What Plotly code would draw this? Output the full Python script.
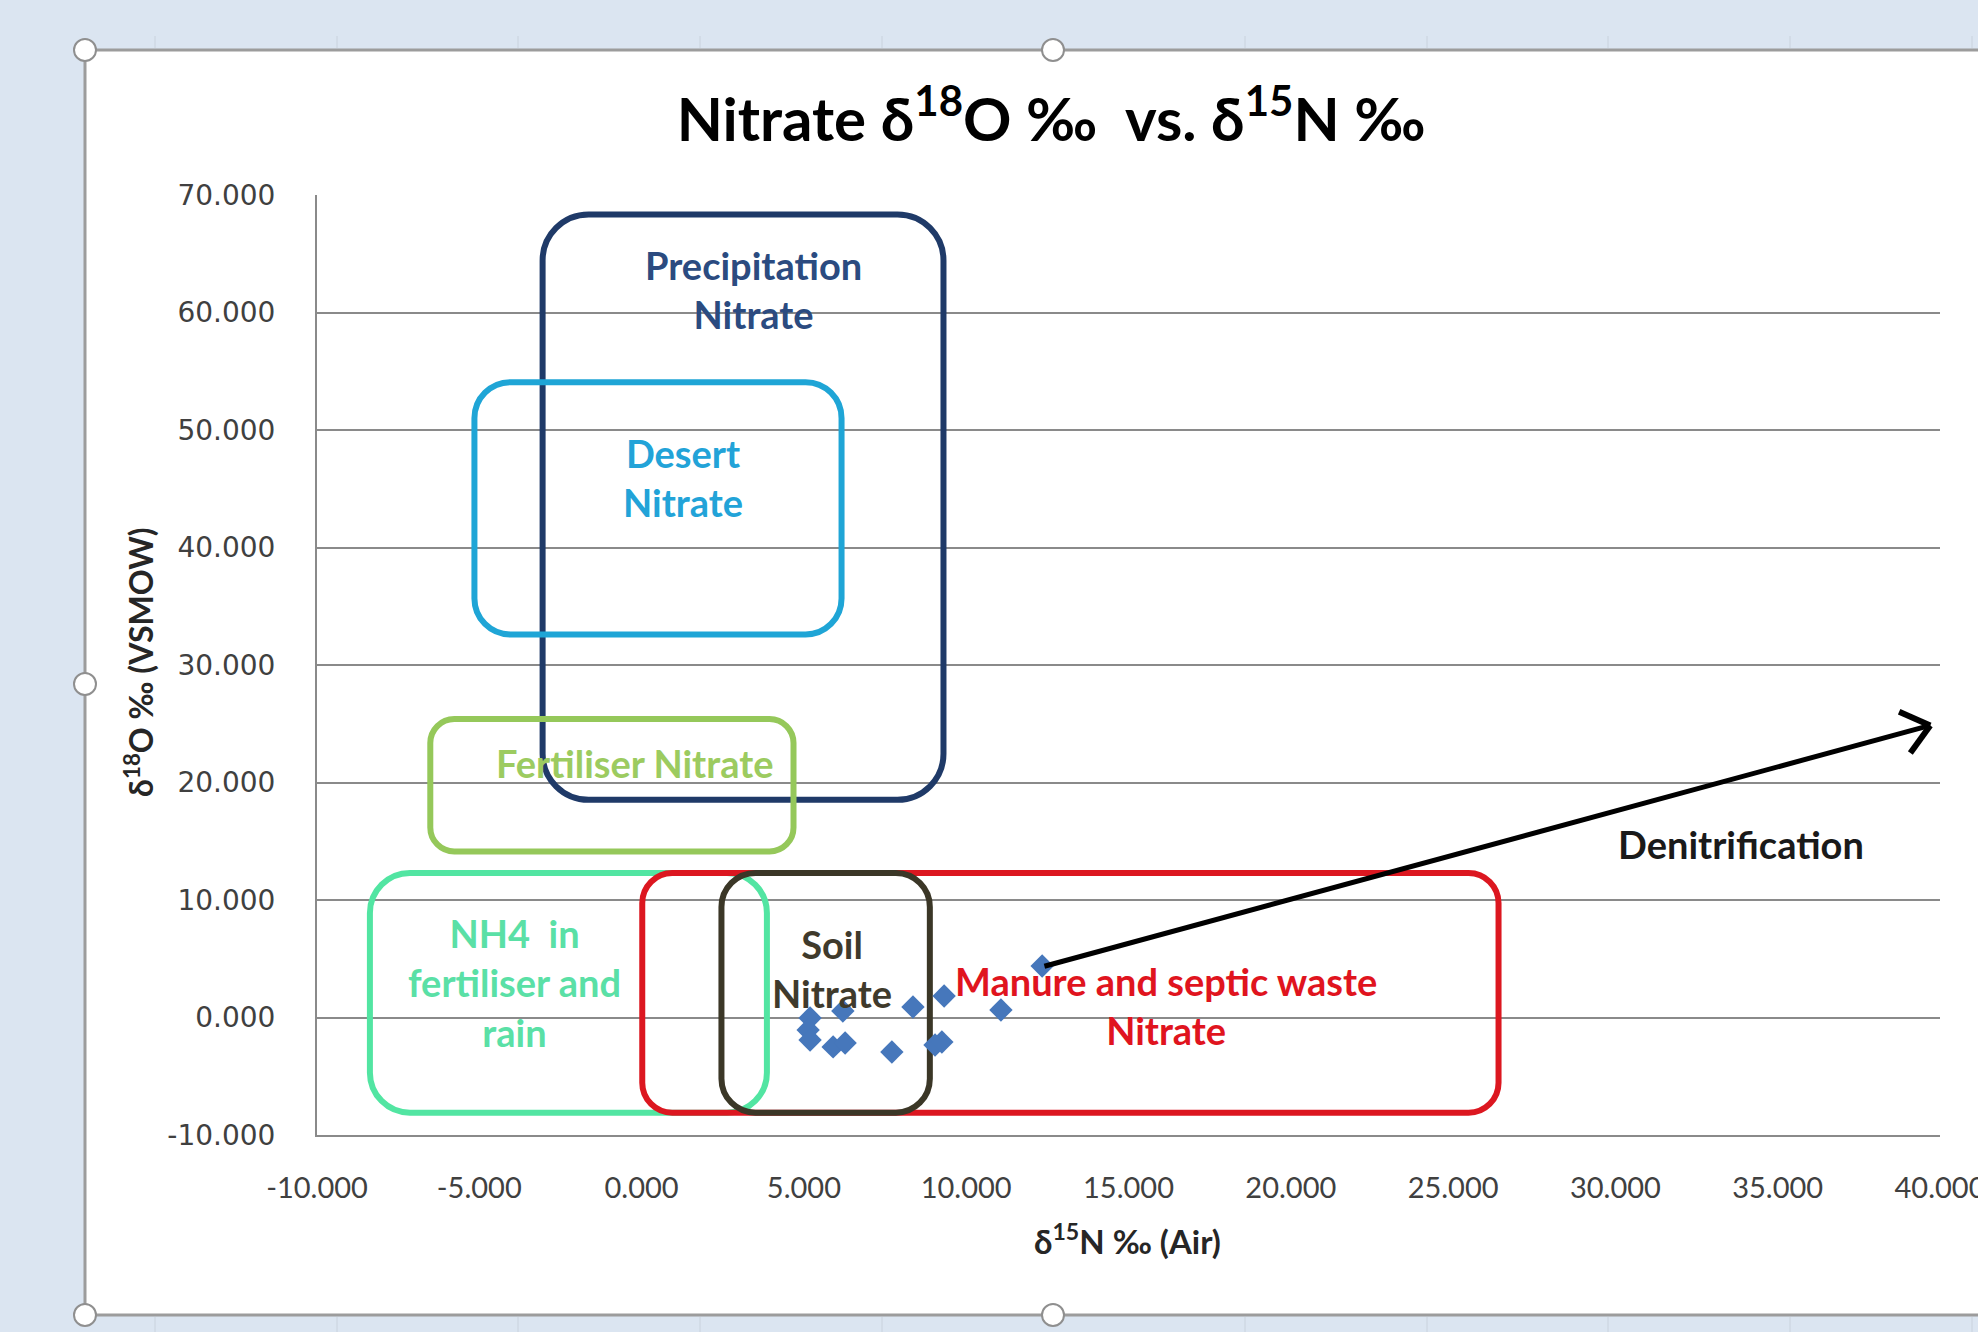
import math
import plotly.graph_objects as go

# ---------------- data ----------------
d15N = [5.19, 5.13, 5.19, 5.90, 6.27, 6.20, 7.71, 8.36, 9.32, 9.04, 9.25, 11.07, 12.34]
d18O = [-0.04, -1.06, -1.91, -2.50, -2.17, 0.55, -2.94, 0.90, 1.83, -2.34, -2.09, 0.64, 4.38]

x_ticks = [-10, -5, 0, 5, 10, 15, 20, 25, 30, 35, 40]
y_ticks = [-10, 0, 10, 20, 30, 40, 50, 60, 70]
x_ticktext = [f"{v:.3f}" for v in x_ticks]
y_ticktext = [f"{v:.3f}" for v in y_ticks]

# source regions (delta15N range, delta18O range)
region_names = ["Precipitation", "Desert", "Fertiliser", "NH4", "Manure", "Soil"]
region_x0 = [-3.05, -5.15, -6.51, -8.37, 0.02, 2.46]
region_x1 = [9.30, 6.16, 4.68, 3.86, 26.40, 8.88]
region_y0 = [18.53, 32.60, 14.13, -8.10, -8.10, -8.10]
region_y1 = [68.35, 54.07, 25.40, 12.30, 12.30, 12.30]
region_colors = ["#1f3a68", "#1fa5d6", "#95c85a", "#52e5a2", "#dc1720", "#3b3727"]
region_radius = [46, 36, 24, 40, 30, 34]

label_texts = ["Precipitation<br>Nitrate", "Desert<br>Nitrate", "Fertiliser Nitrate",
               "NH4\u00a0\u00a0in<br>fertiliser and<br>rain", "Soil<br>Nitrate",
               "Manure and septic waste<br>Nitrate", "Denitrification"]
label_x = [3.46, 1.26, -0.22, -3.91, 5.88, 16.14, 33.87]
label_y = [61.96, 45.96, 21.66, 2.94, 4.14, 1.02, 14.77]
label_colors = ["#2b4b80", "#22a3d8", "#9ccb60", "#5ae0a6", "#3f3a2c", "#e0141e", "#1a1a1a"]

arrow_start = [12.41, 4.36]
arrow_end = [39.70, 24.86]

# ---------------- layout geometry ----------------
W, H = 1978, 1332
L, R, T, B = 317, 38, 195, 197
PW, PH = W - L - R, H - T - B
XR = [-10, 40]
YR = [-10, 70]
SX = PW / (XR[1] - XR[0])
SY = PH / (YR[1] - YR[0])
K = 0.5523


def xp(px):
    return (px - L) / PW


def yp(py):
    return (T + PH - py) / PH


def rounded_path(x0, x1, y0, y1, r):
    rx, ry = r / SX, r / SY
    cx, cy = rx * (1 - K), ry * (1 - K)
    return (f"M {x0+rx},{y1} L {x1-rx},{y1} C {x1-cx},{y1} {x1},{y1-cy} {x1},{y1-ry} "
            f"L {x1},{y0+ry} C {x1},{y0+cy} {x1-cx},{y0} {x1-rx},{y0} "
            f"L {x0+rx},{y0} C {x0+cx},{y0} {x0},{y0+cy} {x0},{y0+ry} "
            f"L {x0},{y1-ry} C {x0},{y1-cy} {x0+cx},{y1} {x0+rx},{y1} Z")


fig = go.Figure()
fig.add_trace(go.Scatter(
    x=d15N, y=d18O, mode="markers",
    marker=dict(symbol="diamond", size=18, color="#4677bb", line=dict(width=0)),
    showlegend=False, hoverinfo="x+y"))

shapes = []
# chart area (white) + border
shapes.append(dict(type="rect", xref="paper", yref="paper", x0=xp(85), x1=xp(2010),
                   y0=yp(1315), y1=yp(50), fillcolor="white", line=dict(width=0), layer="below"))
for (bx0, by0, bx1, by1) in [(85, 50, 2010, 50), (85, 50, 85, 1315), (85, 1315, 2010, 1315)]:
    shapes.append(dict(type="line", xref="paper", yref="paper", x0=xp(bx0), y0=yp(by0),
                       x1=xp(bx1), y1=yp(by1), line=dict(color="#9c9c9c", width=3), layer="below"))
# worksheet cell marks peeking at top/bottom
for cx in [155, 337, 518, 700, 882, 1245, 1427, 1608, 1790, 1972]:
    shapes.append(dict(type="line", xref="paper", yref="paper", x0=xp(cx), x1=xp(cx),
                       y0=yp(1317), y1=yp(1332), line=dict(color="#c9d2dd", width=1), layer="below"))
    shapes.append(dict(type="line", xref="paper", yref="paper", x0=xp(cx), x1=xp(cx),
                       y0=yp(36), y1=yp(48), line=dict(color="#c9d2dd", width=1), layer="below"))
# selection handles
for (hx, hy) in [(85, 50), (1053, 50), (85, 684), (85, 1315), (1053, 1315)]:
    r = 11
    shapes.append(dict(type="circle", xref="paper", yref="paper", x0=xp(hx - r), x1=xp(hx + r),
                       y0=yp(hy + r), y1=yp(hy - r), fillcolor="white",
                       line=dict(color="#8f8f8f", width=2), layer="above"))

# region boxes
for i in range(len(region_names)):
    shapes.append(dict(type="path",
                       path=rounded_path(region_x0[i], region_x1[i], region_y0[i], region_y1[i], region_radius[i]),
                       xref="x", yref="y", line=dict(color=region_colors[i], width=6),
                       fillcolor="rgba(0,0,0,0)", layer="between"))

# denitrification arrow
ax0, ay0 = arrow_start
ax1, ay1 = arrow_end
shapes.append(dict(type="line", xref="x", yref="y", x0=ax0, y0=ay0, x1=ax1, y1=ay1,
                   line=dict(color="black", width=5), layer="above"))
theta = math.atan2((ay1 - ay0) * SY, (ax1 - ax0) * SX)
arm = 34
for s in (1, -1):
    a = theta + math.pi + s * 0.68
    shapes.append(dict(type="line", xref="x", yref="y", x0=ax1, y0=ay1,
                       x1=ax1 + arm * math.cos(a) / SX, y1=ay1 + arm * math.sin(a) / SY,
                       line=dict(color="black", width=6), layer="above"))

annotations = []
for i, t in enumerate(label_texts):
    annotations.append(dict(x=label_x[i], y=label_y[i], xref="x", yref="y", text=t,
                            showarrow=False, xanchor="center", yanchor="middle",
                            font=dict(family="Lato", size=38, color=label_colors[i], weight="bold")))
# axis titles
annotations.append(dict(x=xp(139), y=yp(662), xref="paper", yref="paper",
                        text="δ<sup>18</sup>O ‰ (VSMOW)", textangle=-90, showarrow=False,
                        xanchor="center", yanchor="middle",
                        font=dict(family="Lato", size=32, color="#262626", weight="bold")))
annotations.append(dict(x=xp(1127), y=yp(1239), xref="paper", yref="paper",
                        text="δ<sup>15</sup>N ‰ (Air)", showarrow=False,
                        xanchor="center", yanchor="middle",
                        font=dict(family="Lato", size=33, color="#262626", weight="bold")))

fig.update_layout(
    width=W, height=H,
    margin=dict(l=L, r=R, t=T, b=B, pad=0, autoexpand=False),
    paper_bgcolor="#dbe5f1", plot_bgcolor="white",
    title=dict(text="Nitrate δ<sup>18</sup>O ‰\u00a0\u00a0vs. δ<sup>15</sup>N ‰",
               x=1051 / W, y=1 - 120 / H, xref="container", yref="container",
               xanchor="center", yanchor="middle",
               font=dict(family="Lato", size=60, color="black", weight="bold")),
    shapes=shapes, annotations=annotations, showlegend=False,
    xaxis=dict(range=XR, tickvals=x_ticks, ticktext=x_ticktext, showgrid=False, zeroline=False,
               showline=True, linecolor="#8a8a8a", linewidth=2, ticks="", automargin=False,
               ticklabelstandoff=26, ticklabeloverflow="allow",
               tickfont=dict(family="Lato", size=29, color="#404040")),
    yaxis=dict(range=YR, tickvals=y_ticks, ticktext=y_ticktext, showgrid=True, gridcolor="#8a8a8a",
               gridwidth=2, zeroline=False, showline=True, linecolor="#8a8a8a", linewidth=2,
               ticks="", ticklabelstandoff=34, automargin=False,
               tickfont=dict(family="DejaVu Sans", size=28, color="#404040")),
)

fig.write_html("out.html", config={"displayModeBar": False},
               post_script="document.body.style.margin='0';document.body.style.overflow='hidden';")
